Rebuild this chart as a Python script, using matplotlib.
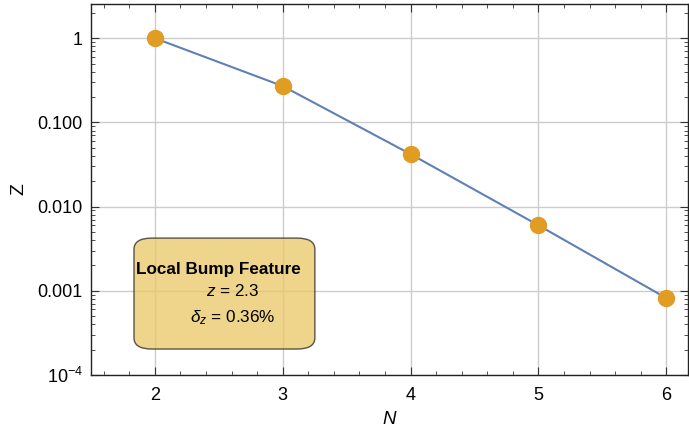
import numpy as np
import matplotlib
matplotlib.use("Agg")
from matplotlib import pyplot as plt
from matplotlib.patches import FancyBboxPatch
from matplotlib.ticker import FixedLocator, LogLocator, NullFormatter, MultipleLocator

n_values = [2, 3, 4, 5, 6]
z_values = [1.0, 0.27, 0.042, 0.006, 0.00082]
y_ticks = [1, 0.1, 0.01, 0.001, 0.0001]
y_tick_labels = ["1", "0.100", "0.010", "0.001", r"10$^{-4}$"]
x_ticks = [2, 3, 4, 5, 6]

plt.rcParams["font.family"] = ["Liberation Sans", "DejaVu Sans"]
plt.rcParams["mathtext.fontset"] = "custom"
plt.rcParams["mathtext.rm"] = "Liberation Sans"
plt.rcParams["mathtext.it"] = "Liberation Sans:italic"

fig = plt.figure(figsize=(6.89, 4.33), dpi=100)
ax = fig.add_axes([91 / 689, 1 - 375 / 433, 597 / 689, 371 / 433])

ax.plot(n_values, z_values, color="#5E81B5", lw=1.5, zorder=3)
ax.plot(n_values, z_values, "o", color="#E19C24", ms=11.5, zorder=4)

ax.set_yscale("log")
ax.set_xlim(1.5, 6.17)
ax.set_ylim(1e-4, 2.55)

ax.xaxis.set_major_locator(FixedLocator(x_ticks))
ax.xaxis.set_minor_locator(MultipleLocator(0.2))
ax.yaxis.set_major_locator(FixedLocator(y_ticks))
ax.set_yticklabels(y_tick_labels)
ax.yaxis.set_minor_locator(LogLocator(base=10, subs=np.arange(2, 10)))
ax.yaxis.set_minor_formatter(NullFormatter())

ax.tick_params(which="both", direction="in", top=True, right=True, labelsize=13, color="#333333")
ax.tick_params(which="major", length=6, width=0.8)
ax.tick_params(which="minor", length=3, width=0.6)
ax.tick_params(axis="x", pad=9)
ax.tick_params(axis="y", pad=6)

ax.grid(True, which="major", color="#cccccc", lw=1.0, zorder=0)
ax.set_axisbelow(True)
for s in ax.spines.values():
    s.set_color("#222222")
    s.set_linewidth(1.0)

ax.set_xlabel("N", fontstyle="italic", fontsize=13.5, labelpad=5)
ax.set_ylabel("Z", fontsize=14, labelpad=7)

box = FancyBboxPatch((0.072, 0.07), 0.303, 0.299, transform=ax.transAxes,
                     boxstyle="round,pad=0,rounding_size=0.03",
                     facecolor="#E9C765", alpha=0.75, edgecolor="#222222", lw=1.0, zorder=2)
ax.add_patch(box)
ax.text(0.213, 0.285, "Local Bump Feature", transform=ax.transAxes, ha="center", va="center",
        fontsize=12.3, fontweight="bold", zorder=5)
ax.text(0.237, 0.226, r"$z$ = 2.3", transform=ax.transAxes, ha="center", va="center",
        fontsize=12.3, zorder=5)
ax.text(0.237, 0.155, r"$\delta_z$ = 0.36%", transform=ax.transAxes, ha="center", va="center",
        fontsize=12.3, zorder=5)

fig.savefig("out.png", dpi=100)
